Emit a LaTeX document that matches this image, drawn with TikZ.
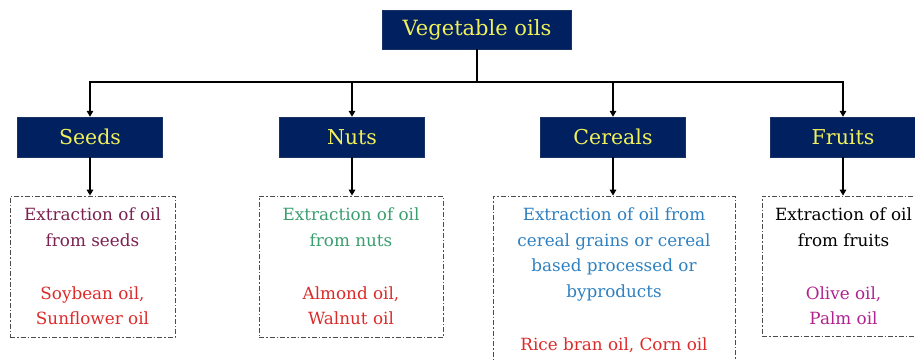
\documentclass[tikz,border=0pt]{standalone}
\usepackage{fontspec}
\setmainfont{DejaVu Serif}
\usetikzlibrary{arrows.meta}
\definecolor{navy}{HTML}{002060}
\definecolor{ylw}{HTML}{F0F05A}
\definecolor{maroon}{HTML}{7B2150}
\definecolor{oilred}{HTML}{DC2A2A}
\definecolor{nutgreen}{HTML}{3A9E6E}
\definecolor{cerblue}{HTML}{2E80C0}
\definecolor{olivemag}{HTML}{B0228E}
\tikzset{
  head/.style={fill=navy, draw=navy!80!gray, text=ylw, minimum width=145pt, minimum height=40pt, inner sep=0pt, font=\fontsize{20.5}{24}\selectfont},
  dbox/.style={draw=gray!60!black, dash pattern=on 5pt off 2pt on 1.5pt off 2pt, line width=0.8pt, inner sep=0pt},
  desc/.style={align=center, font=\fontsize{16.8}{25.6}\selectfont, anchor=north, inner sep=0pt},
  link/.style={line width=2pt, draw=black},
  arr/.style={link, -{Triangle[length=6pt,width=6.5pt]}}
}
\begin{document}
\begin{tikzpicture}[x=1pt,y=-1pt]
\useasboundingbox (0,0) rectangle (915,360);
\clip (0,0) rectangle (915,360);
% title
\node[head, minimum width=189pt, minimum height=39pt, font=\fontsize{21}{25}\selectfont] (title) at (477,29.5) {Vegetable oils};
\coordinate (bus) at (477,82);
% categories
\node[head] (seeds) at (90,137) {Seeds};
\node[head] (nuts) at (352,137) {Nuts};
\node[head] (cereals) at (613,137) {Cereals};
\node[head] (fruits) at (843,137) {Fruits};
% dashed boxes
\node[dbox, minimum width=165pt, minimum height=141pt] (sbox) at (92.5,266.5) {};
\node[dbox, minimum width=184pt, minimum height=141pt] (nbox) at (351,266.5) {};
\node[dbox, minimum width=242pt, minimum height=190pt] (cbox) at (614,291) {};
\node[dbox, minimum width=163pt, minimum height=140pt] (fbox) at (843.5,266) {};
% texts
\node[desc] (stext) at ([yshift=-12pt]sbox.north) {\textcolor{maroon}{Extraction of oil}\\\textcolor{maroon}{from seeds}\\[27.5pt]\textcolor{oilred}{Soybean oil,}\\\textcolor{oilred}{Sunflower oil}};
\node[desc] (ntext) at ([yshift=-12pt]nbox.north) {\textcolor{nutgreen}{Extraction of oil}\\\textcolor{nutgreen}{from nuts}\\[27.5pt]\textcolor{oilred}{Almond oil,}\\\textcolor{oilred}{Walnut oil}};
\node[desc] (ctext) at ([yshift=-12pt]cbox.north) {\textcolor{cerblue}{Extraction of oil from}\\\textcolor{cerblue}{cereal grains or cereal}\\\textcolor{cerblue}{based processed or}\\\textcolor{cerblue}{byproducts}\\[27.5pt]\textcolor{oilred}{Rice bran oil, Corn oil}};
\node[desc] (ftext) at ([yshift=-12pt]fbox.north) {Extraction of oil\\from fruits\\[27.5pt]\textcolor{olivemag}{Olive oil,}\\\textcolor{olivemag}{Palm oil}};
% connectors
\draw[link] (title.south) -- (bus);
\draw[link] ([xshift=-1pt]seeds.north |- bus) -- ([xshift=1pt]fruits.north |- bus);
\foreach \n in {seeds,nuts,cereals,fruits}
  \draw[arr] (\n.north |- bus) -- (\n.north);
\draw[arr] (seeds.south) -- (seeds.south |- sbox.north);
\draw[arr] (nuts.south) -- (nuts.south |- nbox.north);
\draw[arr] (cereals.south) -- (cereals.south |- cbox.north);
\draw[arr] (fruits.south) -- (fruits.south |- fbox.north);
\end{tikzpicture}
\end{document}
